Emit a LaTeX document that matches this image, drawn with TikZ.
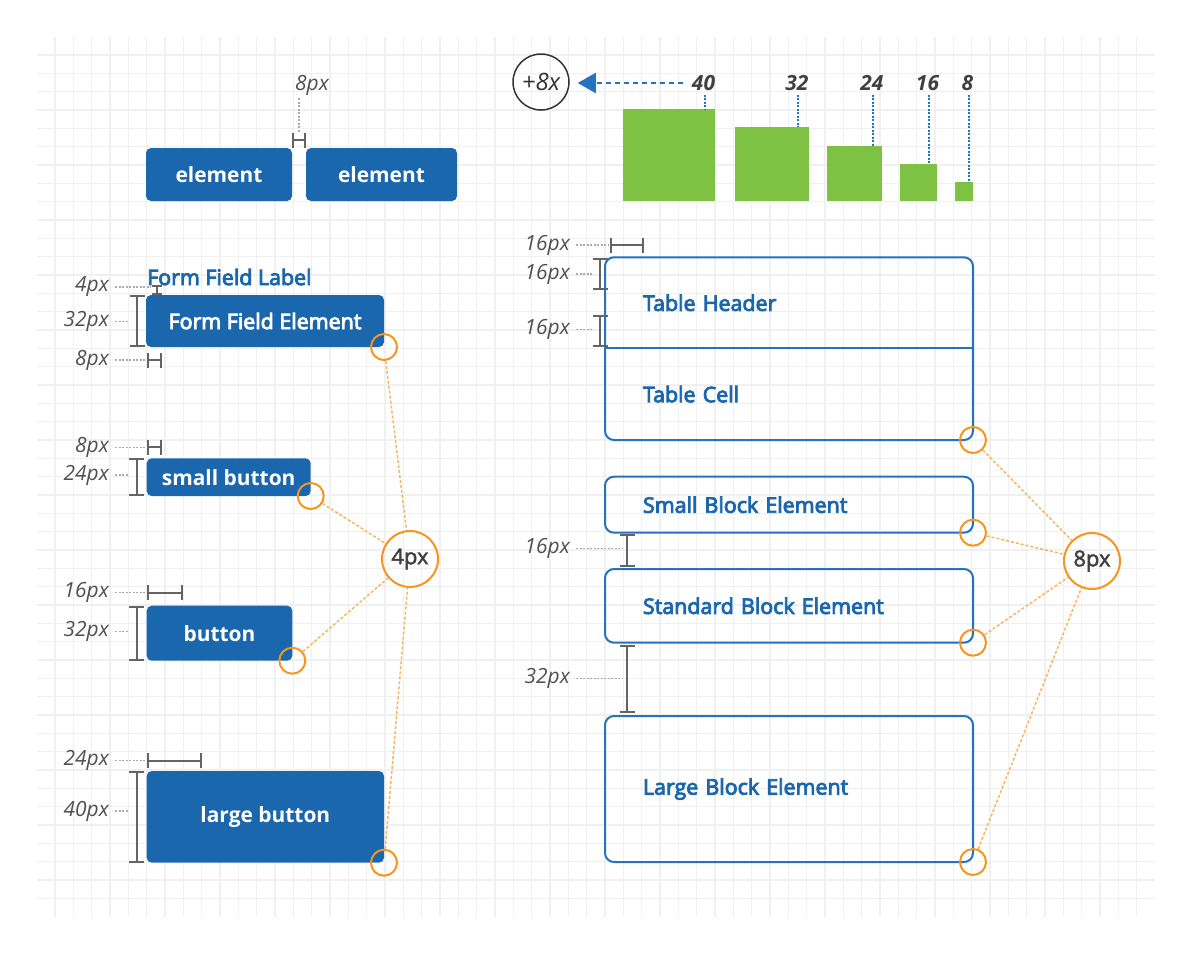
\documentclass[tikz,border=0pt]{standalone}
\usepackage{fontspec}
\setmainfont{Open Sans}
\newfontfamily\semib[FakeBold=4]{Open Sans}
\newfontfamily\mediumf[FakeBold=2]{Open Sans}
\usepackage{tikz}
\usetikzlibrary{positioning, arrows.meta}

\definecolor{btnblue}{RGB}{27,103,174}
\definecolor{lineblue}{RGB}{36,114,192}
\definecolor{dimgray}{RGB}{100,100,100}
\definecolor{lblgray}{RGB}{80,80,80}
\definecolor{leadgray}{RGB}{170,170,170}
\definecolor{gridgray}{RGB}{240,240,240}
\definecolor{ring}{RGB}{247,148,30}
\definecolor{ringline}{RGB}{250,180,95}
\definecolor{sqgreen}{RGB}{125,194,66}

\tikzstyle{btn} = [rectangle, rounded corners=5bp, fill=btnblue, text=white,
    font=\bfseries\fontsize{21}{25}\selectfont, inner sep=0pt, outer sep=0pt, anchor=north west]
\tikzstyle{block} = [rectangle, rounded corners=9bp, draw=lineblue, line width=2bp,
    minimum width=368bp, text width=292bp, inner xsep=38bp, inner ysep=0pt, outer sep=0pt,
    align=left, text=btnblue, font=\semib\fontsize{21.5}{25}\selectfont, anchor=north west]
\tikzstyle{fieldlbl} = [text=btnblue, font=\semib\fontsize{21.5}{25}\selectfont, inner sep=0pt, anchor=west]
\tikzstyle{dimlbl} = [text=lblgray, font=\itshape\fontsize{21}{25}\selectfont, inner sep=0pt, anchor=east]
\tikzstyle{numlbl} = [text=lblgray!80!black, font=\bfseries\itshape\fontsize{21}{25}\selectfont, inner sep=0pt]
\tikzstyle{dimbar} = [draw=dimgray, line width=2bp, {Bar[width=15bp]}-{Bar[width=15bp]}]
\tikzstyle{dimsmall} = [draw=dimgray, line width=2bp, {Bar[width=10bp]}-{Bar[width=10bp]}]
\tikzstyle{leader} = [draw=leadgray, line width=1.2bp, dash pattern=on 2bp off 1.5bp, shorten <=6bp]
\tikzstyle{cornerring} = [circle, draw=ring, line width=2bp, minimum size=26bp, inner sep=0pt]
\tikzstyle{badge} = [circle, draw=ring, line width=2bp, minimum size=56bp, inner sep=0pt,
    text=lblgray!80!black, font=\mediumf\fontsize{22}{26}\selectfont]
\tikzstyle{ringlink} = [draw=ringline, line width=1.5bp, dash pattern=on 3bp off 2bp]
\tikzstyle{gridline} = [draw=gridgray, line width=1.6bp]
\tikzstyle{sizesq} = [rectangle, fill=sqgreen, inner sep=0pt, outer sep=0pt, anchor=south west]
\tikzstyle{bluedot} = [draw=lineblue, line width=2bp, dash pattern=on 2bp off 1.5bp]
\tikzstyle{bluedash} = [draw=lineblue, line width=1.8bp, dash pattern=on 5bp off 4bp,
    -{Triangle[length=18bp, width=20bp]}, shorten <=9bp, shorten >=8bp]

\begin{document}
\begin{tikzpicture}[x=1bp, y=-1bp]
\useasboundingbox (0,0) rectangle (1200,970);

% background grid
\foreach \i in {3,...,62}
    \draw [gridline] (\i*55/3, 110/3) -- (\i*55/3, 2750/3);
\foreach \j in {3,...,49}
    \draw [gridline] (110/3, \j*55/3) -- (3465/3, \j*55/3);

% two elements side by side
\node (elemA) [btn, minimum width=146bp, minimum height=53bp] at (146,148) {element};
\node (elemB) [btn, minimum width=151bp, minimum height=53bp, anchor=west, right=14bp of elemA] {element};
\draw [dimbar] ([yshift=8bp]elemA.north east) -- ([yshift=8bp]elemB.north west);
\node (gaplbl) [dimlbl, anchor=center] at (312,85) {8px};
\coordinate (gapmid) at ([xshift=7bp, yshift=15.5bp]elemA.north east);
\coordinate (gaptop) at (gapmid |- gaplbl.south);
\draw [leader, shorten <=3bp] (gaptop) -- (gapmid);

% form field
\node (ffl) [fieldlbl] at (147,277) {Form Field Label};
\node (ffe) [btn, font=\semib\fontsize{21.5}{25}\selectfont, minimum width=238bp, minimum height=52bp] at (146,295) {Form Field Element};
\draw [dimsmall] ([xshift=11bp, yshift=10bp]ffe.north west) coordinate (ffgapA) -- ([xshift=11bp]ffe.north west);
\draw [dimbar] ([xshift=-9bp]ffe.north west) coordinate (ffhA) -- ([xshift=-9bp]ffe.south west);
\draw [dimbar] ([xshift=1bp, yshift=-13bp]ffe.south west) coordinate (ffpad) -- ([xshift=16bp, yshift=-13bp]ffe.south west);
\node (ffgap) [dimlbl] at (109,287) {4px};
\node (ffh) [dimlbl] at (109,321.7) {32px};
\node (ffp) [dimlbl] at (109,360) {8px};
\draw [leader, shorten >=6bp] (ffgap.east) -- (ffgap.east -| ffgapA);
\draw [leader, shorten >=8bp] (ffh.east) -- (ffh.east -| ffhA);
\draw [leader, shorten >=2bp] (ffp.east) -- (ffp.east -| ffpad);

% small button
\node (sbtn) [btn, minimum width=164bp, minimum height=37.7bp] at (146.7,458.3) {small button};
\draw [dimbar] ([yshift=11bp]sbtn.north west) coordinate (spad) -- ([xshift=15bp, yshift=11bp]sbtn.north west);
\draw [dimbar] ([xshift=-10bp]sbtn.north west) coordinate (shA) -- ([xshift=-10bp]sbtn.south west);
\node (sp) [dimlbl] at (109,447.3) {8px};
\node (sh) [dimlbl] at (109,475) {24px};
\draw [leader, shorten >=1bp] (sp.east) -- (sp.east -| spad);
\draw [leader, shorten >=8bp] (sh.east) -- (sh.east -| shA);

% button
\node (bbtn) [btn, minimum width=145.6bp, minimum height=55bp] at (146.7,605.7) {button};
\draw [dimbar] ([yshift=13bp]bbtn.north west) coordinate (bpad) -- ([xshift=36.6bp, yshift=13bp]bbtn.north west);
\draw [dimbar] ([xshift=-10bp]bbtn.north west) coordinate (bhA) -- ([xshift=-10bp]bbtn.south west);
\node (bp) [dimlbl] at (109,592.7) {16px};
\node (bh) [dimlbl] at (109,631.7) {32px};
\draw [leader, shorten >=1bp] (bp.east) -- (bp.east -| bpad);
\draw [leader, shorten >=8bp] (bh.east) -- (bh.east -| bhA);

% large button
\node (lbtn) [btn, minimum width=237.3bp, minimum height=91.7bp] at (146.7,771) {large button};
\draw [dimbar] ([yshift=10.3bp]lbtn.north west) coordinate (lpad) -- ([xshift=55bp, yshift=10.3bp]lbtn.north west);
\draw [dimbar] ([xshift=-10bp]lbtn.north west) coordinate (lhA) -- ([xshift=-10bp]lbtn.south west);
\node (lp) [dimlbl] at (109,760.7) {24px};
\node (lh) [dimlbl] at (109,811) {40px};
\draw [leader, shorten >=1bp] (lp.east) -- (lp.east -| lpad);
\draw [leader, shorten >=8bp] (lh.east) -- (lh.east -| lhA);

% 4px corner radius
\node (ringF) [cornerring] at (ffe.south east) {};
\node (ringS) [cornerring] at (sbtn.south east) {};
\node (ringB) [cornerring] at (bbtn.south east) {};
\node (ringL) [cornerring] at (lbtn.south east) {};
\node (px4) [badge] at (410,559) {4px};
\foreach \r in {ringF, ringS, ringB, ringL}
    \draw [ringlink] (\r) -- (px4);

% spacing scale
\node (plus8) [circle, draw=black!80, line width=1.5bp, minimum size=56bp, inner sep=0pt,
    text=black!80, font=\itshape\fontsize{24}{28}\selectfont] at (541,82) {+8x};
\foreach \n/\x/\s/\o in {40/623.3/91.7/10, 32/735/73.7/10.4, 24/826.7/55/8.4, 16/900/36.7/7.7, 8/955/18.3/4.3} {
    \node (sq\n) [sizesq, minimum size=\s bp] at (\x,200.7) {};
    \coordinate (tk\n) at (\x+\s-\o,83);
    \node (num\n) [numlbl] at ([xshift=-1.5bp]tk\n) {\n};
    \coordinate (tp\n) at (tk\n |- num\n.south);
    \draw [bluedot, shorten <=4bp] (tp\n) -- (tk\n |- sq\n.north);
}
\draw [bluedash] (num40.west) -- (num40.west -| plus8.east);

% table
\node (thead) [block, draw=none, minimum height=91bp] at (605,257.3) {Table Header};
\node (tcell) [block, draw=none, minimum height=91.7bp, below=0pt of thead] {Table Cell};
\draw [draw=lineblue, line width=2bp, rounded corners=9bp] (thead.north west) rectangle (tcell.south east);
\draw [draw=lineblue, line width=2bp] (thead.south west) -- (thead.south east);
\draw [dimbar] ([xshift=5bp, yshift=12.3bp]thead.north west) coordinate (tpad) -- ([xshift=39bp, yshift=12.3bp]thead.north west);
\draw [dimbar] ([xshift=-5bp, yshift=-1bp]thead.north west) coordinate (ttA) -- ([xshift=-5bp, yshift=-33bp]thead.north west);
\draw [dimbar] ([xshift=-5bp, yshift=33.3bp]thead.south west) coordinate (tbA) -- ([xshift=-5bp, yshift=1.6bp]thead.south west);
\node (tp) [dimlbl] at (570,245) {16px};
\node (tt) [dimlbl] at (570,274) {16px};
\node (tb) [dimlbl] at (570,329.3) {16px};
\draw [leader, shorten >=2bp] (tp.east) -- (tp.east -| tpad);
\draw [leader, shorten >=7bp] (tt.east) -- (tt.east -| ttA);
\draw [leader, shorten >=7bp] (tb.east) -- (tb.east -| tbA);

% blocks
\node (sblock) [block, minimum height=56bp] at (605,476.7) {Small Block Element};
\node (stdblock) [block, minimum height=73.7bp] at (605,569) {Standard Block Element};
\node (lblock) [block, minimum height=146bp] at (605,716) {Large Block Element};
\draw [dimbar] ([xshift=22bp, yshift=-1.6bp]sblock.south west) coordinate (gsA) -- ([xshift=22bp, yshift=2.3bp]stdblock.north west);
\draw [dimbar] ([xshift=22bp, yshift=-2.3bp]stdblock.south west) coordinate (glA) -- ([xshift=22bp, yshift=2.7bp]lblock.north west);
\node (gs) [dimlbl] at (570,548.3) {16px};
\node (gl) [dimlbl] at (570,678.3) {32px};
\draw [leader, shorten >=4bp] (gs.east) -- (gs.east -| gsA);
\draw [leader, shorten >=4bp] (gl.east) -- (gl.east -| glA);

% 8px corner radius
\node (ringT) [cornerring] at (tcell.south east) {};
\node (ringSB) [cornerring] at (sblock.south east) {};
\node (ringSD) [cornerring] at (stdblock.south east) {};
\node (ringLB) [cornerring] at (lblock.south east) {};
\node (px8) [badge] at (1092,561) {8px};
\foreach \r in {ringT, ringSB, ringSD, ringLB}
    \draw [ringlink] (\r) -- (px8);
\end{tikzpicture}
\end{document}
